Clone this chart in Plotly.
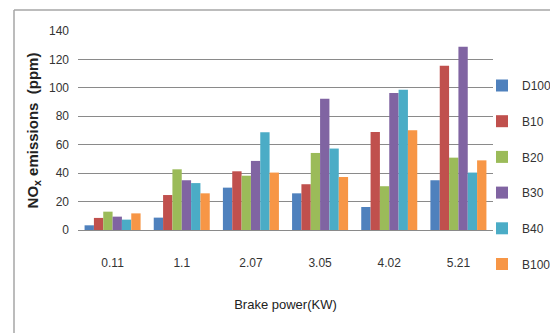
import plotly.graph_objects as go

categories = ["0.11", "1.1", "2.07", "3.05", "4.02", "5.21"]
series_names = ["D100", "B10", "B20", "B30", "B40", "B100"]
D100 = [3.3, 8.7, 29.8, 25.8, 16.2, 35.0]
B10 = [8.5, 24.6, 41.3, 32.2, 69.0, 115.5]
B20 = [12.9, 42.7, 38.2, 54.2, 30.8, 50.9]
B30 = [9.4, 35.0, 48.6, 92.3, 96.3, 129.0]
B40 = [7.3, 33.0, 68.8, 57.3, 98.6, 40.4]
B100 = [11.7, 25.8, 40.4, 37.3, 70.2, 49.0]
series_values = [D100, B10, B20, B30, B40, B100]
colors = ["#4F81BD", "#C0504D", "#9BBB59", "#8064A2", "#4BACC6", "#F79646"]
y_ticks = [0, 20, 40, 60, 80, 100, 120, 140]

# page is offset by the browser's default 8px body margin
O = 8
W, H = 558 - O, 333 - O
# plot area in page coordinates: x 78..493, y 31..230
L, T = 78 - O, 31 - O
R = W - (493 - O)
B = H - (230 - O)
pw, ph = W - L - R, H - T - B

fig = go.Figure()
for name, vals, col in zip(series_names, series_values, colors):
    fig.add_trace(go.Bar(x=categories, y=vals, name=name, marker_color=col,
                         marker_line_width=0, legendgroup=name))

fam = "Liberation Sans Narrow, Liberation Sans, Arial"
tickfont = dict(family=fam, size=12, color="#333333")

fig.update_layout(
    width=W, height=H,
    margin=dict(l=L, r=R, t=T, b=B, autoexpand=False),
    paper_bgcolor="white", plot_bgcolor="white",
    barmode="group", bargap=0.19, bargroupgap=0.0,
    font=tickfont,
    legend=dict(x=(482 - O - L) / pw, xanchor="left", y=1 - (71 - O - T) / ph, yanchor="top",
                font=dict(family=fam, size=12, color="#333333"),
                tracegroupgap=16.7, itemwidth=30, bgcolor="rgba(0,0,0,0)", maxheight=320),
    xaxis=dict(showgrid=False, showline=False, ticks="", tickfont=tickfont,
               ticklabelstandoff=24,
               title=dict(text="Brake power(KW)", font=dict(family=fam, size=13, color="#222222"), standoff=30)),
    yaxis=dict(range=[0, 140], tickvals=y_ticks, showgrid=True, gridcolor="#8A8A8A", gridwidth=1,
               zeroline=True, zerolinecolor="#8A8A8A", zerolinewidth=1,
               showline=False, ticks="", tickfont=tickfont, ticklabelstandoff=8,
               title=dict(text="<b>NO<sub>x</sub> emissions  (ppm)</b>",
                          font=dict(family="Liberation Sans, Arial", size=15, color="#222222"), standoff=6)),
)

# outer frame lines (chart area border)
x_left = (14 - O - L) / pw
y_top = 1 + (T - (10 - O)) / ph
fig.add_shape(type="line", xref="paper", yref="paper", x0=x_left, x1=(W + 5 - L) / pw,
              y0=y_top, y1=y_top, line=dict(color="#A6A6A6", width=1.5))
fig.add_shape(type="line", xref="paper", yref="paper", x0=x_left, x1=x_left,
              y0=-(B + 5) / ph, y1=y_top, line=dict(color="#A6A6A6", width=1.5))

fig.write_html("out.html")
